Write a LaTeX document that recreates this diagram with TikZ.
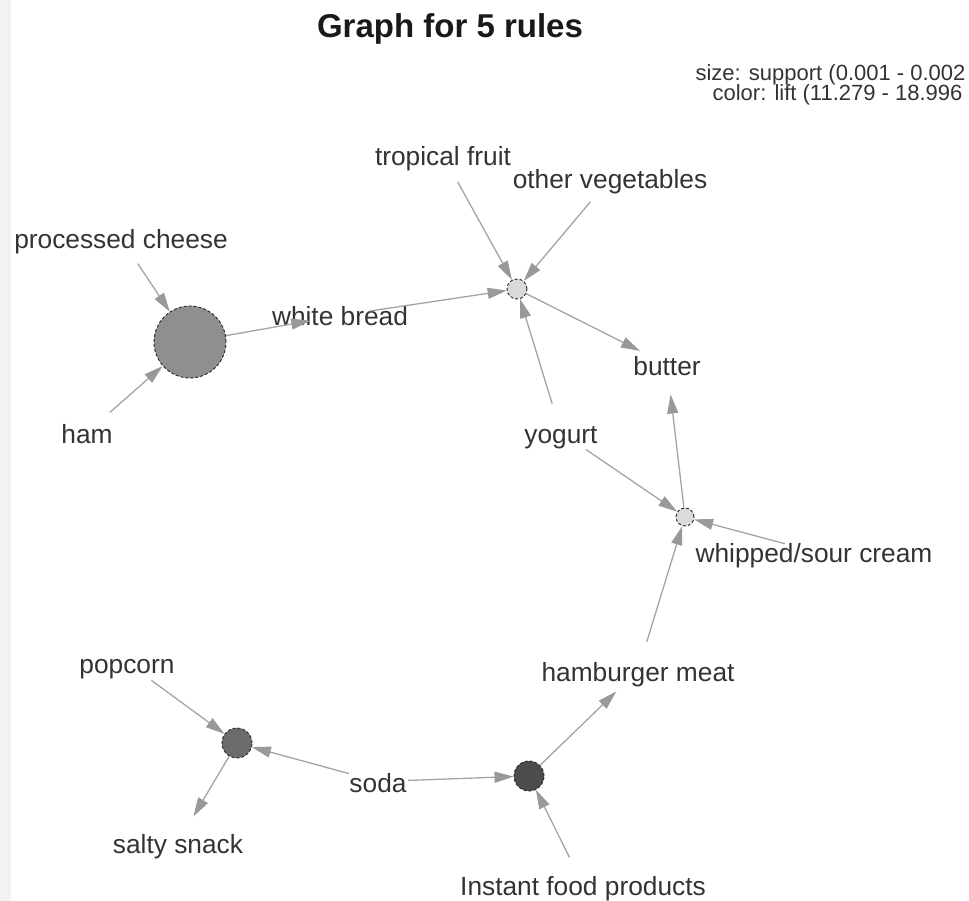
\documentclass[tikz,border=0pt]{standalone}
\usepackage{fontspec}
\setmainfont{Liberation Sans}
\usetikzlibrary{arrows.meta}
\definecolor{edgegray}{HTML}{A4A4A4}
\definecolor{tipgray}{HTML}{999999}
\definecolor{txtgray}{HTML}{333333}

\begin{document}
\begin{tikzpicture}[x=1pt, y=-1pt,
    item/.style={circle, minimum size=60pt, inner sep=0pt, label={[itemtext]center:#1}},
    itemtext/.style={inner sep=0pt, text=txtgray, text height=21pt, text depth=0pt,
        font=\fontsize{26.3}{30}\selectfont},
    rulenode/.style={circle, inner sep=0pt, minimum size=#1, draw=black!85,
        line width=0.9pt, densely dashed},
    edge/.style={draw=edgegray, line width=1.3pt,
        -{Triangle[length=19pt, width=11pt, color=tipgray]}}]
        \useasboundingbox (0,0) rectangle (969,901);
        \fill[black!5] (0,0) rectangle (11,901);

        % title and legend
        \node[anchor=base, font=\bfseries\fontsize{33}{38}\selectfont, text=black!90] (title) at (450,38) {Graph for 5 rules};
        \node[anchor=base east, font=\fontsize{22}{24}\selectfont, text=txtgray] (legsize) at (969,81) {size: support (0.001 - 0.002};
        \node[anchor=base east, font=\fontsize{22}{24}\selectfont, text=txtgray] (legcolor) at (966,101) {color: lift (11.279 - 18.996};

        % rules
        \node[rulenode=72pt, fill=black!44] (r1) at (190,342) {};
        \node[rulenode=20pt, fill=black!15] (r2) at (517,289) {};
        \node[rulenode=18pt, fill=black!14] (r3) at (685,517) {};
        \node[rulenode=30pt, fill=black!58] (r4) at (237,743) {};
        \node[rulenode=30pt, fill=black!70] (r5) at (529,776) {};

        % items
        \node[item=processed cheese] (cheese) at (121,238.5) {};
        \node[item=ham] (ham) at (87,432.5) {};
        \node[item=white bread] (bread) at (340,315.5) {};
        \node[item=tropical fruit] (fruit) at (443,155.5) {};
        \node[item=other vegetables] (veg) at (610,178.5) {};
        \node[item=butter] (butter) at (667,364.5) {};
        \node[item=yogurt] (yogurt) at (561,432.5) {};
        \node[item=whipped/sour cream] (cream) at (814,551.5) {};
        \node[item=hamburger meat] (burger) at (638,670.5) {};
        \node[item=popcorn] (popcorn) at (127,662.5) {};
        \node[item=salty snack] (snack) at (178,842.5) {};
        \node[item=soda] (soda) at (378,781.5) {};
        \node[item=Instant food products] (instant) at (583,884.5) {};

        \foreach \a/\b in {cheese/r1, ham/r1, r1/bread, bread/r2, fruit/r2, veg/r2, yogurt/r2,
            r2/butter, yogurt/r3, cream/r3, burger/r3, r3/butter, popcorn/r4, r4/snack,
            soda/r4, soda/r5, instant/r5, r5/burger}
            \draw[edge] (\a) -- (\b);
    \end{tikzpicture}
\end{document}
